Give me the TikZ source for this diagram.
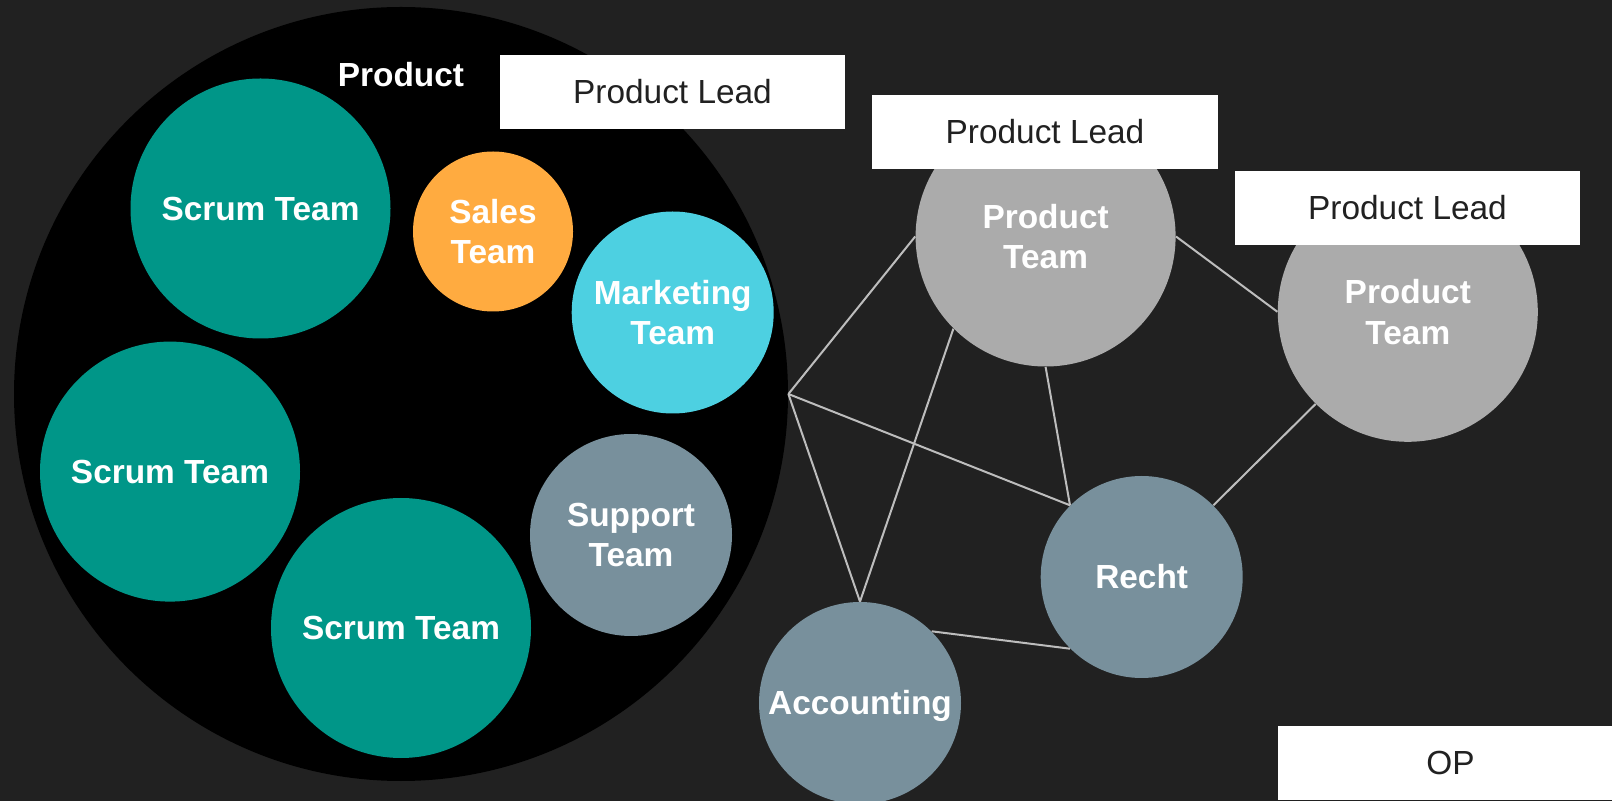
\documentclass[tikz,border=0pt]{standalone}
\usepackage{fontspec}
\setmainfont{Liberation Sans}
\definecolor{bg}{HTML}{212121}
\definecolor{teamteal}{HTML}{009688}
\definecolor{teamorange}{HTML}{FFAB40}
\definecolor{teamcyan}{HTML}{4DD0E1}
\definecolor{teamslate}{HTML}{78909C}
\definecolor{teamgray}{HTML}{ABABAB}
\definecolor{linkgray}{HTML}{BDBDBD}
\definecolor{textdark}{HTML}{212121}
\begin{document}
\begin{tikzpicture}[x=0.5pt,y=-0.5pt,
  team/.style={circle, inner sep=0pt, text=white, align=center,
    font=\fontsize{16.7}{20.4}\selectfont\bfseries},
  oneline/.style={text height=11.6pt, text depth=0pt},
  lead/.style={fill=white, inner sep=0pt, minimum width=172.8pt, minimum height=36.8pt,
    text=textdark, font=\fontsize{16.7}{20}\selectfont, oneline},
  link/.style={draw=linkgray, line width=1pt}]
\useasboundingbox (0,0) rectangle (1612,801);
\fill[bg] (0,0) rectangle (1612,801);
\clip (0,0) rectangle (1612,801);
% product group
\node[circle, fill=black, minimum size=387pt, inner sep=0pt] (prod) at (401,394) {};
\node[text=white, font=\fontsize{16.7}{20}\selectfont\bfseries, oneline] (prodlbl) at (401,75) {Product};
\node[team, oneline, fill=teamteal, minimum size=130pt] (s1) at (260.5,208.5) {Scrum Team};
\node[team, fill=teamorange, minimum size=80pt] (sales) at (493,231.5) {Sales\\Team};
\node[team, fill=teamcyan, minimum size=101pt] (mkt) at (672.7,312.5) {Marketing\\Team};
\node[team, oneline, fill=teamteal, minimum size=130pt] (s2) at (170,471.6) {Scrum Team};
\node[team, oneline, fill=teamteal, minimum size=130pt] (s3) at (401,628) {Scrum Team};
\node[team, fill=teamslate, minimum size=101pt] (sup) at (631,535) {Support\\Team};
% other teams
\node[team, fill=teamgray, minimum size=130pt] (pt1) at (1045.6,236.5) {Product\\Team};
\node[team, fill=teamgray, minimum size=130pt] (pt2) at (1407.8,311.8) {Product\\Team};
\node[team, oneline, fill=teamslate, minimum size=101pt] (recht) at (1141.7,577) {Recht};
\node[team, oneline, fill=teamslate, minimum size=101pt] (acc) at (860,703) {Accounting};
% links
\coordinate (J) at (prod.east);
\draw[link] (J) -- (pt1.west);
\draw[link] (J) -- (recht.135);
\draw[link] (J) -- (acc.north);
\draw[link] (pt1.225) -- (acc.north);
\draw[link] (pt1.south) -- (recht.135);
\draw[link] (pt1.east) -- (pt2.west);
\draw[link] (pt2.225) -- (recht.45);
\draw[link] (acc.45) -- (recht.225);
% leads
\node[lead] (lead1) at (672.5,92) {Product Lead};
\node[lead] (lead2) at (1045,132) {Product Lead};
\node[lead] (lead3) at (1407.5,207.8) {Product Lead};
\node[lead] (op) at (1450.5,763) {OP};
\end{tikzpicture}
\end{document}
